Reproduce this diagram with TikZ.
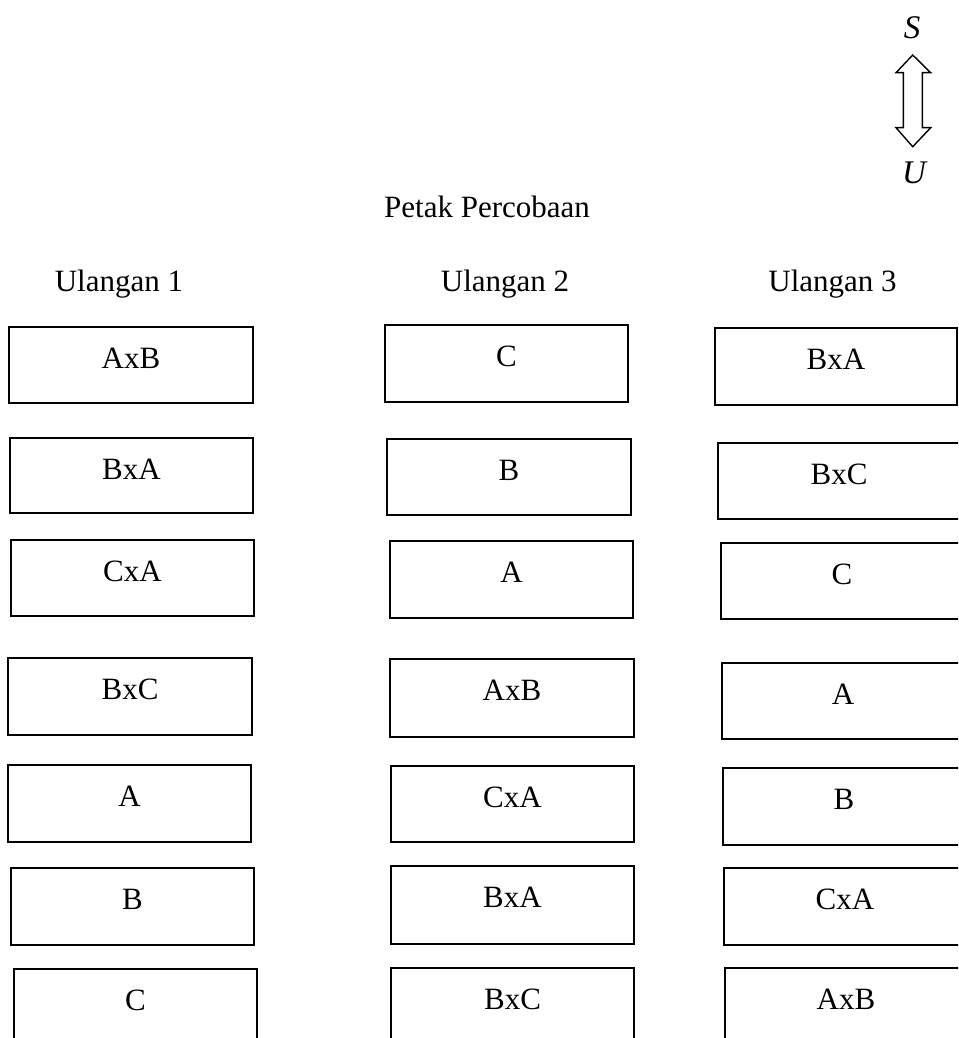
\documentclass[tikz,border=0pt]{standalone}
\usepackage{fontspec}
\setmainfont{Liberation Serif}
\usetikzlibrary{calc}
\begin{document}
\begin{tikzpicture}[x=1pt,y=-1pt,
  plotbox/.style={draw=black, line width=1.8pt, rectangle, inner sep=0pt, outer sep=0pt, anchor=north west},
  plotlabel/.style={anchor=base, inner sep=0pt, font=\fontsize{31}{37}\selectfont},
  heading/.style={anchor=base, inner sep=0pt, font=\fontsize{31}{37}\selectfont},
  compass/.style={inner sep=0pt, font=\fontsize{33}{39}\selectfont\itshape}]
\useasboundingbox (0,0) rectangle (958,1038);
\clip (0,0) rectangle (958,1038);

% one field plot: name, left, top, right, bottom, treatment
\newcommand\fieldplot[6]{%
  \pgfmathsetmacro\pw{#4-#2}%
  \pgfmathsetmacro\ph{#5-#3}%
  \node[plotbox, minimum width=\pw pt, minimum height=\ph pt] (#1) at (#2,#3) {};
  \node[plotlabel] (#1-t) at ($(#1.north)+(0,41.5)$) {#6};
}

% orientation mark
\node[compass] (S) at (912,28) {S};
\node[compass] (U) at (914,173) {U};
\draw[line width=1.4pt, line join=miter] (912.7,55) -- (930.7,72.7) -- (922.3,72.7) -- (922.3,127.7)
  -- (930.7,127.7) -- (912.7,146.7) -- (896,127.7) -- (903.3,127.7) -- (903.3,72.7) -- (896,72.7) -- cycle;

% headings
\node[heading] (title) at (487,217) {Petak Percobaan};
\node[heading] (u1) at (119,291) {Ulangan 1};
\node[heading] (u2) at (505,291) {Ulangan 2};
\node[heading] (u3) at (832.5,291) {Ulangan 3};

% replicate 1
\fieldplot{a1}{9}{327}{253}{403}{AxB}
\fieldplot{a2}{10}{438}{253}{513}{BxA}
\fieldplot{a3}{11}{540}{254}{616}{CxA}
\fieldplot{a4}{8}{658}{252}{735}{BxC}
\fieldplot{a5}{8}{765}{251}{842}{A}
\fieldplot{a6}{11}{868}{254}{945}{B}
\fieldplot{a7}{14}{969}{257}{1046}{C}

% replicate 2
\fieldplot{b1}{385}{325}{628}{402}{C}
\fieldplot{b2}{387}{439}{631}{515}{B}
\fieldplot{b3}{390}{541}{633}{618}{A}
\fieldplot{b4}{390}{659}{634}{737}{AxB}
\fieldplot{b5}{391}{766}{634}{842}{CxA}
\fieldplot{b6}{391}{866}{634}{944}{BxA}
\fieldplot{b7}{391}{968}{634}{1046}{BxC}

% replicate 3
\fieldplot{c1}{715}{328}{957}{405}{BxA}
\fieldplot{c2}{718}{443}{960}{519}{BxC}
\fieldplot{c3}{721}{543}{963}{619}{C}
\fieldplot{c4}{722}{663}{964}{739}{A}
\fieldplot{c5}{723}{768}{965}{845}{B}
\fieldplot{c6}{724}{868}{966}{945}{CxA}
\fieldplot{c7}{725}{968}{967}{1046}{AxB}
\end{tikzpicture}
\end{document}
